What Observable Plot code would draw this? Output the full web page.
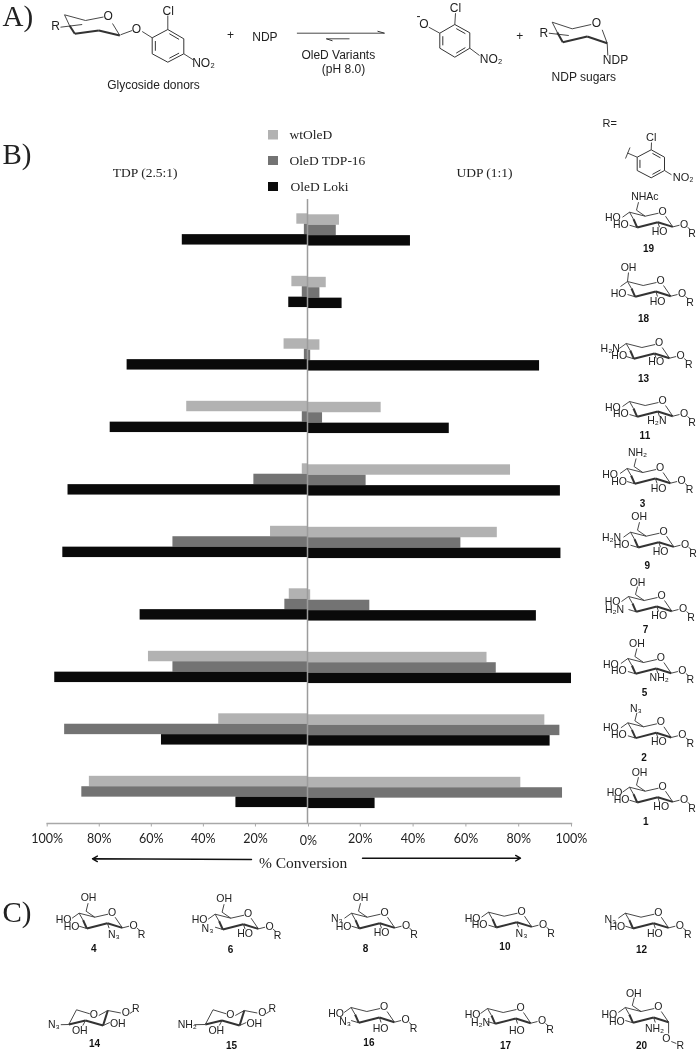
<!DOCTYPE html>
<html>
<head>
<meta charset="utf-8">
<script src="https://cdn.jsdelivr.net/npm/d3@7"></script>
<script src="https://cdn.jsdelivr.net/npm/@observablehq/plot@0.6"></script>
<style>
html,body{margin:0;padding:0;background:#fff}
#page{position:relative;width:697px;height:1050px;overflow:hidden}
#page svg{position:absolute;left:0;top:0;filter:blur(0.3px)}
</style>
</head>
<body>
<div id="page"></div>
<script>
// ---------- chart data (percent conversion, top to bottom) ----------
const compounds = ["19","18","13","11","3","9","7","5","2","1"];
const series = ["wtOleD","OleD TDP-16","OleD Loki"];
const colors = ["#b2b2b2","#737373","#0a0a0a"];
const tdpWt   = [4.1, 6.0, 9.0, 46.4, 2.0, 14.2, 7.0, 61.1, 34.1, 83.8];
const tdpTdp  = [1.2, 2.0, 1.2, 2.0, 20.6, 51.7, 8.7, 51.7, 93.3, 86.7];
const tdpLoki = [48.1, 7.2, 69.3, 75.8, 92.0, 94.0, 64.3, 97.1, 56.1, 27.5];
const udpWt   = [12.1, 7.1, 4.7, 27.9, 76.9, 71.9, 1.2, 68.0, 89.9, 80.8];
const udpTdp  = [10.9, 4.7, 1.2, 5.7, 22.2, 58.1, 23.6, 71.5, 95.6, 96.6];
const udpLoki = [39.0, 13.1, 87.9, 53.7, 95.8, 96.0, 86.7, 100, 91.9, 25.6];
const tickValues = [-100,-80,-60,-40,-20,20,40,60,80,100];

const tdpSeries = [tdpWt, tdpTdp, tdpLoki];
const udpSeries = [udpWt, udpTdp, udpLoki];
const rows = compounds.flatMap((c,i) => series.flatMap((s,j) => [
  {slot:c+"|"+j, series:s, side:"TDP", v:-tdpSeries[j][i]},
  {slot:c+"|"+j, series:s, side:"UDP", v: udpSeries[j][i]}
]));
// each compound takes six equal rows: three bars and three blank rows
const slots = compounds.flatMap((c,i) => [0,1,2,3,4,5].map(k => c+"|"+k)).slice(0,57);

const serif = "'Liberation Serif','Times New Roman',serif";
const sans  = "'Liberation Sans',Arial,sans-serif";

const chart = Plot.plot({
  width:697, height:1050,
  marginTop:199, marginBottom:227, marginLeft:46.7, marginRight:126,
  x:{type:"linear", domain:[-100,0,100], range:[46.7,307,571], axis:null, label:null},
  y:{type:"band", domain:slots, range:[213.3,213.3+57*10.417], axis:null, padding:0, round:false, label:null},
  color:{domain:series, range:colors},
  marks:[
    Plot.barX(rows.filter(d=>d.side==="TDP"),{x1:()=>0,x2:"v",y:"slot",fill:"series",inset:0}),
    Plot.barX(rows.filter(d=>d.side==="UDP"),{x1:()=>0,x2:"v",y:"slot",fill:"series",inset:0,dy:1}),
    Plot.ruleX([0],{stroke:"#9c9c9c",strokeWidth:1.5}),
    Plot.frame({anchor:"bottom",stroke:"#a8a8a8",strokeWidth:1.4}),
    Plot.axisX({anchor:"bottom",label:null,ticks:tickValues,tickFormat:d=>Math.abs(d)+"%",tickSize:3.5,tickPadding:7,
      stroke:"#a8a8a8",fontSize:12.5,fontFamily:"Lato,sans-serif",color:"#222"}),
    Plot.axisX({anchor:"bottom",label:null,ticks:[0],tickFormat:d=>d+"%",tickSize:3.5,tickPadding:9,dx:1,
      stroke:"#a8a8a8",fontSize:12.5,fontFamily:"Lato,sans-serif",color:"#222"})
  ]
});

// ---------- scheme annotations: chemical structures, legend, labels ----------
const bonds = [];   // {x1,y1,x2,y2,w}
const labels = [];  // {t,x,y}
const numbers = [];
const seg = (x1,y1,x2,y2,w=0.9) => bonds.push({x1,y1,x2,y2,w});
const lab = (t,x,y) => labels.push({t,x,y});

function sugar(ox,oy,subs,num,opt={}){
  const S=(a,b,c,d,w)=>seg(ox+a,oy+b,ox+c,oy+d,w);
  lab("O",ox,oy);
  S(-33,1,-17.3,5); S(-17.3,5,-4,2); S(3,5,10.3,15.7);
  S(10.3,15.7,-4.7,11,2); S(-4.7,11,-25.3,16.3,2); S(-25.3,16.3,-29,8,2); S(-29,8,-33,1);
  if(opt.c6){ S(-17.3,5,-26,-1); S(-26,-1,-24,-9); }
  if(opt.axial){ S(-33,1,-32,-8); }
  S(-33,1,-40,6); S(-25.3,16.3,-33,14); S(-4.7,11,-3,16);
  if(opt.axialO){
    S(10.3,15.7,10.3,27); lab("O",opt.axialO[0]+ox,opt.axialO[1]+oy);
    S(13,35,18,37); lab("R",opt.axialO[2]+ox,opt.axialO[3]+oy);
  } else {
    S(10.3,15.7,17,14); S(25,16,28,18.5);
    lab("O",ox+21.5,oy+13.3); lab("R",ox+29.5,oy+22.3);
  }
  subs.forEach(s=>lab(s[0],ox+s[1],oy+s[2]));
  numbers.push({t:num[0],x:num[1],y:num[2]});
}
function flipped(ox,oy,left,num){
  const S=(a,b,c,d,w)=>seg(ox+a,oy+b,ox+c,oy+d,w);
  lab("O",ox,oy);
  S(-25,10,-17.3,-4.7); S(-17.3,-4.7,-4,-0.7); S(5,1,14,-4);
  S(14,-4,9.3,11,2); S(9.3,11,-8.3,6,2); S(-8.3,6,-25,10,2);
  S(left[1]+7,10.2,-25,10); S(-8.3,6,-11,11); S(9.3,11,16,8); S(14,-4,27,-1.5); S(36,-1,39,-3);
  lab(left[0],ox+left[1],oy+10);
  lab("OH",ox-14,oy+16); lab("OH",ox+24,oy+9.3); lab("O",ox+32,oy-1.7); lab("R",ox+42,oy-5.7);
  numbers.push({t:num[0],x:num[1],y:num[2]});
}
const c6 = {c6:true};
const sugars = [
  [662,210.7,[["NHAc",-17.6,-14.7],["HO",-49.6,6.6],["HO",-41.6,13.3],["HO",-3,20.3]],["19",648,248],c6],
  [660,280,[["OH",-32,-13],["HO",-42,12.7],["HO",-3,21]],["18",643,318],{axial:true}],
  [658.7,342,[["H₂N",-49,6.3],["HO",-40,13],["HO",-3,19]],["13",643,378],{}],
  [662,400,[["HO",-49.6,7],["HO",-41.6,13.3],["H₂N",-5.6,20]],["11",644.4,435.7],{}],
  [659.6,467,[["NH₂",-22.6,-15.3],["HO",-50,7],["HO",-41,14],["HO",-1.5,21]],["3",642,503],c6],
  [663,530.7,[["OH",-24.3,-14.7],["H₂N",-52,6.7],["HO",-42,13.7],["HO",-3,20.3]],["9",646.7,565.7],c6],
  [661,595,[["OH",-24,-13.3],["HO",-49,6.3],["H₂N",-47,14.3],["HO",-2.3,20]],["7",645,629.7],c6],
  [660.4,657,[["OH",-24,-14],["HO",-50,7],["HO",-42,13],["NH₂",-1.7,19.7]],["5",644,692],c6],
  [660.4,721.3,[["N₃",-25,-13],["HO",-50,6],["HO",-42,13],["HO",-2,20]],["2",643.6,757],c6],
  [662,785.7,[["OH",-23,-13.3],["HO",-48,6.7],["HO",-41,13.3],["HO",-1.3,20.7]],["1",645.3,821.7],c6],
  [111.6,911.7,[["OH",-23.6,-14.4],["HO",-48.6,7],["HO",-40.6,14],["N₃",1.7,22.3]],["4",93.3,948],c6],
  [247.6,912.7,[["OH",-24,-14.4],["HO",-48.6,6.6],["N₃",-40.6,15],["HO",-3,20]],["6",230,949],c6],
  [384,911.7,[["OH",-24,-14.4],["N₃",-47.6,6.7],["HO",-41,14],["HO",-3,20]],["8",365,948],c6],
  [521,910.7,[["HO",-49,7],["HO",-42,13.6],["N₃",0,22]],["10",504.4,946.7],{}],
  [657.8,911.7,[["N₃",-48,7.6],["HO",-41,14],["HO",-3.5,21]],["12",641,949],{}],
  [383.6,1006,[["HO",-48,7],["N₃",-39,15],["HO",-3.6,21.7]],["16",368.4,1042.7],{}],
  [520,1007,[["HO",-48,7],["H₂N",-40,15],["HO",-3.6,23]],["17",505,1045],{}],
  [657.8,1006,[["OH",-24.5,-13.3],["HO",-49,8],["HO",-41.4,15],["NH₂",-3.8,22]],["20",641,1045],{c6:true,axialO:[8,31.7,22,39]}]
];
sugars.forEach(s=>sugar(...s));
flipped(93.3,1014,["N₃",-40],["14",94,1043.3]);
flipped(229.8,1014,["NH₂",-43],["15",231,1045.7]);

function benzene(a,b,c,d,e,f){
  const pts=[a,b,c,d,e,f];
  pts.forEach((p,i)=>{const q=pts[(i+1)%6];seg(p[0],p[1],q[0],q[1],1);});
  const cx=(a[0]+c[0]+e[0])/3, cy=(a[1]+c[1]+e[1])/3;
  [[b,c],[d,e],[f,a]].forEach(([p,q])=>{
    const m=(v,w)=>v+(w-v)*0.2;
    const px=[m(p[0],cx),m(p[1],cy)],qx=[m(q[0],cx),m(q[1],cy)];
    seg(px[0]+(qx[0]-px[0])*.12,px[1]+(qx[1]-px[1])*.12,qx[0]-(qx[0]-px[0])*.12,qx[1]-(qx[1]-px[1])*.12,1);
  });
}
// glycoside donor
seg(64,14.3,85,20);seg(85,20,103,16.5);seg(112,23,119.3,35);
seg(119.3,35,98.3,30,2);seg(98.3,30,74.3,33.3,2);seg(74.3,33.3,69,25,2);seg(69,25,64,14.3);
seg(60,26.7,81.7,24);seg(120,34.3,131.7,30);seg(141.7,31,151.7,37.3);
benzene([151.7,37.3],[167.3,29],[183.3,38.3],[183.3,53.3],[167.3,61.7],[151.7,53.3]);
seg(167.3,29,167.3,15);seg(183.3,53.3,192.7,59.3);
// phenolate
seg(428.3,26.7,439.3,32.7);seg(454.3,24,455,12.7);seg(469.3,47.7,479,55);
benzene([439.3,32.7],[454.3,24],[469.3,32.3],[469.3,47.7],[454.3,56.7],[439.3,47.7]);
// NDP sugar
seg(551.7,21.7,571.7,28.3);seg(571.7,28.3,590.7,24);seg(601.7,29.3,606.7,42.7);
seg(606.7,42.7,586.7,36,2);seg(586.7,36,562.3,41.7,2);seg(562.3,41.7,556.7,31.7,2);seg(556.7,31.7,551.7,21.7);
seg(548.3,32.7,568.3,35);seg(606.7,42.7,607.3,55);
// R=
benzene([636.7,156.7],[650.7,149.3],[664,156.7],[664,170],[650.7,177.3],[636.7,170]);
seg(650.7,149.3,651,142);seg(664,170,671,174.3);seg(636.7,156.7,627,152.5);seg(629.5,147,625,158);
// equilibrium arrows
seg(296.4,32.7,384,32.7);seg(384,32.7,377,30.7,1);
seg(325.8,38.3,349,38.3);seg(325.8,38.3,332,40.3,1);

const annot = [
  ["Glycoside donors",153,85,12],["NDP",264.4,36.7,12],["+",230,35,12],["OleD Variants",337.8,55,12],
  ["(pH 8.0)",343,69,12],["+",519.3,35.7,12],["NDP sugars",583.3,76.7,12],["NDP",615,59.3,12],
  ["R",55,26,12],["O",107.7,15.7,12],["O",136,28.3,12],["Cl",167.7,10.7,12],["NO₂",203,62.7,12],
  ["O",423.3,24,12],["-",418,16,12],["Cl",455,7.3,12],["NO₂",490.7,59,12],
  ["R",543.3,32.7,12],["O",596,22.7,12],
  ["R=",609.3,123.3,11],["Cl",650.7,136.7,11],["NO₂",682.7,176.7,11]
].map(([t,x,y,s])=>({t,x,y,s}));
const serifStart = [
  ["wtOleD",289,134,13.5],["OleD TDP-16",289,160,13.5],["OleD Loki",290,185.7,13.5],
  ["A)",2,16,29],["B)",2,154,29],["C)",2,912,29]
].map(([t,x,y,s])=>({t,x,y,s}));
const serifMid = [
  ["TDP (2.5:1)",144.7,172,13.5],["UDP (1:1)",484,172,13.5],["% Conversion",302.6,863,15.5]
].map(([t,x,y,s])=>({t,x,y,s}));
const legendRows = series.map((s,i)=>({s,x1:268,x2:278,y1:[130,156,182][i],y2:[139.5,165,191][i],c:colors[i]}));
const arrows = [{x1:251,y1:859,x2:92,y2:858.3},{x1:362,y1:857.7,x2:520,y2:857.7}];

const overlay = Plot.plot({
  width:697,height:1050,margin:0,
  style:{background:"transparent"},
  x:{type:"identity",axis:null,label:null},y:{type:"identity",axis:null,label:null},
  marks:[
    Plot.link(bonds,{x1:"x1",y1:"y1",x2:"x2",y2:"y2",stroke:"#333",strokeWidth:"w"}),
    Plot.text(labels,{x:"x",y:"y",text:"t",fontSize:10.5,fontFamily:sans,fill:"#222"}),
    Plot.text(numbers,{x:"x",y:"y",text:"t",fontSize:10,fontWeight:"bold",fontFamily:sans,fill:"#111"}),
    Plot.text(annot,{x:"x",y:"y",text:"t",fontSize:"s",fontFamily:sans,fill:"#222"}),
    Plot.text(serifStart,{x:"x",y:"y",text:"t",fontSize:"s",textAnchor:"start",fontFamily:serif,fill:"#222"}),
    Plot.text(serifMid,{x:"x",y:"y",text:"t",fontSize:"s",textAnchor:"middle",fontFamily:serif,fill:"#222"}),
    Plot.rect(legendRows,{x1:"x1",x2:"x2",y1:"y1",y2:"y2",fill:"c"}),
    Plot.arrow(arrows,{x1:"x1",y1:"y1",x2:"x2",y2:"y2",bend:0,stroke:"#111",strokeWidth:1.4,headLength:6})
  ]
});
const page=document.getElementById("page");
page.append(chart,overlay);
</script>
</body>
</html>
